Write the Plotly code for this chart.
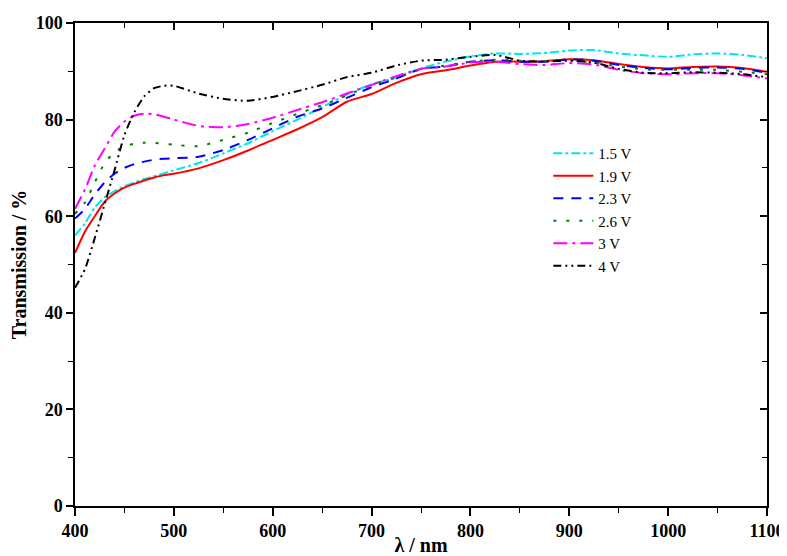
import plotly.graph_objects as go

wavelength = [400, 410, 420, 430, 440, 450, 460, 470, 480, 490, 500, 525, 550, 575, 600,
              625, 650, 675, 700, 725, 750, 775, 800, 825, 850, 875, 900, 925, 950, 975,
              1000, 1025, 1050, 1075, 1100]

t_1v5 = [56.0, 58.5, 61.8, 63.9, 65.2, 66.2, 67.0, 67.7, 68.3, 68.9, 69.5, 71.0, 73.0, 75.1, 77.6,
         80.0, 82.6, 85.2, 87.3, 88.7, 90.6, 92.0, 93.1, 93.7, 93.6, 93.8, 94.3, 94.4, 93.7, 93.3,
         93.0, 93.5, 93.7, 93.4, 92.7]
t_1v9 = [52.4, 56.8, 60.0, 63.0, 64.7, 65.9, 66.7, 67.4, 68.0, 68.5, 68.8, 69.9, 71.6, 73.6, 75.8,
         78.0, 80.5, 83.7, 85.3, 87.6, 89.4, 90.2, 91.2, 92.0, 92.0, 92.1, 92.5, 92.3, 91.5, 90.9,
         90.6, 90.9, 91.0, 90.7, 89.9]
t_2v3 = [59.5, 61.5, 64.5, 67.0, 68.8, 70.0, 70.8, 71.3, 71.7, 71.9, 72.0, 72.3, 73.7, 75.8, 78.2,
         80.6, 82.3, 84.5, 86.7, 88.5, 90.5, 91.0, 92.0, 92.3, 92.0, 92.0, 92.5, 92.2, 91.3, 90.7,
         90.4, 90.7, 90.8, 90.5, 89.7]
t_2v6 = [60.5, 62.8, 67.0, 71.0, 73.3, 74.4, 75.0, 75.2, 75.2, 75.0, 74.8, 74.5, 75.8, 77.3, 79.3,
         81.2, 83.0, 85.0, 87.2, 88.7, 90.4, 91.2, 92.0, 92.4, 92.2, 92.1, 92.3, 91.8, 91.0, 90.4,
         90.3, 90.3, 90.3, 89.9, 89.4]
t_3v = [61.5, 65.5, 70.5, 74.0, 77.5, 79.6, 80.8, 81.2, 81.1, 80.6, 80.0, 78.7, 78.4, 79.1, 80.4,
        82.0, 83.6, 85.4, 87.2, 89.0, 90.5, 91.0, 91.8, 92.0, 91.5, 91.3, 91.7, 91.4, 90.3, 89.6,
        89.4, 89.6, 89.6, 89.2, 88.5]
t_4v = [45.2, 49.0, 55.5, 62.5, 69.5, 76.8, 81.5, 84.8, 86.5, 87.0, 87.0, 85.4, 84.3, 83.9, 84.7,
        85.9, 87.2, 88.8, 89.7, 91.2, 92.2, 92.4, 93.0, 93.4, 92.2, 92.0, 92.2, 91.8, 90.5, 89.7,
        89.6, 89.8, 89.7, 89.4, 88.8]

series_names = ["1.5 V", "1.9 V", "2.3 V", "2.6 V", "3 V", "4 V"]
series_values = [t_1v5, t_1v9, t_2v3, t_2v6, t_3v, t_4v]
colors = ["#00e5ee", "#ff0000", "#0000ff", "#007f00", "#ff00ff", "#000000"]
dashes = ["9px,3px,3px,3px", "solid", "10px,8px", "3px,10px",
          "14px,5px,3px,5px", "8px,4px,2px,4px,2px,4px"]

x_ticks = [400, 500, 600, 700, 800, 900, 1000, 1100]
y_ticks = [0, 20, 40, 60, 80, 100]

FONT = "Liberation Serif"

fig = go.Figure()
for name, vals, col, dsh in zip(series_names, series_values, colors, dashes):
    fig.add_trace(go.Scatter(
        x=wavelength, y=vals, name=name, mode="lines",
        line=dict(color=col, width=2, dash=dsh, shape="spline", smoothing=0.6),
    ))

# helper trace so the mirrored top/right axes (ticks inside) are drawn
fig.add_trace(go.Scatter(x=[None], y=[None], xaxis="x2", yaxis="y2",
                         showlegend=False, hoverinfo="skip"))

tickfont = dict(family=FONT, size=18, color="black", weight="bold")

fig.update_layout(
    width=779, height=548,
    margin=dict(l=67, r=20, t=15, b=50),
    paper_bgcolor="white", plot_bgcolor="white",
    font=dict(family=FONT, color="black"),
    showlegend=True,
    legend=dict(x=0.684, y=0.764, xanchor="left", yanchor="top",
                bgcolor="rgba(0,0,0,0)", borderwidth=0,
                font=dict(family=FONT, size=15, color="black"),
                tracegroupgap=0, itemwidth=40),
    xaxis=dict(range=[400, 1100], tickvals=x_ticks, ticktext=[str(v) for v in x_ticks],
               showgrid=False, zeroline=False, showline=True, linecolor="black", linewidth=1.5,
               ticks="outside", ticklen=8, tickwidth=1.5, tickcolor="black",
               minor=dict(dtick=50, ticks="outside", ticklen=5, tickwidth=1.2, tickcolor="black"),
               tickfont=tickfont, automargin=False,
               title=dict(text="λ / nm", font=dict(family=FONT, size=20, color="black", weight="bold"),
                          standoff=4)),
    yaxis=dict(range=[0, 100], tickvals=y_ticks, ticktext=[str(v) for v in y_ticks],
               showgrid=False, zeroline=False, showline=True, linecolor="black", linewidth=1.5,
               ticks="outside", ticklen=7, tickwidth=1.5, tickcolor="black",
               minor=dict(dtick=10, ticks="outside", ticklen=5, tickwidth=1.2, tickcolor="black"),
               tickfont=tickfont, automargin=False,
               title=dict(text="Transmission / %", font=dict(family=FONT, size=20, color="black", weight="bold"),
                          standoff=6)),
    xaxis2=dict(range=[400, 1100], overlaying="x", side="top", tickvals=x_ticks,
                showticklabels=False, showgrid=False, zeroline=False, showline=True,
                linecolor="black", linewidth=1.5, ticks="inside", ticklen=7, tickwidth=1.5,
                tickcolor="black", automargin=False,
                minor=dict(dtick=50, ticks="inside", ticklen=5, tickwidth=1.2, tickcolor="black")),
    yaxis2=dict(range=[0, 100], overlaying="y", side="right", tickvals=y_ticks,
                showticklabels=False, showgrid=False, zeroline=False, showline=True,
                linecolor="black", linewidth=2, ticks="inside", ticklen=7, tickwidth=1.5,
                tickcolor="black", automargin=False,
                minor=dict(dtick=10, ticks="inside", ticklen=5, tickwidth=1.2, tickcolor="black")),
)

fig.write_html("out.html")
